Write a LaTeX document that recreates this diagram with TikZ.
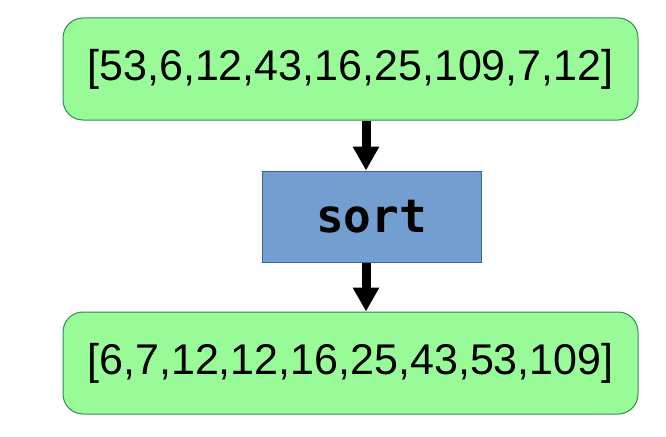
\documentclass[tikz,border=0pt]{standalone}
\usepackage{fontspec}
\setmainfont{Liberation Sans}
\newfontfamily\codefont{DejaVu Sans Mono}
\usetikzlibrary{arrows.meta,positioning}
\definecolor{listgreen}{HTML}{98FB98}
\definecolor{listedge}{HTML}{2E8B57}
\definecolor{sortblue}{HTML}{729FCF}
\definecolor{sortedge}{HTML}{3465A4}
\begin{document}
\begin{tikzpicture}
     [
     x=1pt, y=-1pt,
     listbox/.style={rectangle, rounded corners=20pt, draw=listedge, fill=listgreen, line width=1pt, minimum width=575pt, minimum height=102pt, font=\fontsize{43}{48}\selectfont},
     sortbox/.style={rectangle, draw=sortedge, fill=sortblue, line width=1pt, minimum width=219pt, minimum height=91pt, font=\codefont\bfseries\fontsize{46}{52}\selectfont},
     flow/.style={line width=9pt, -{Triangle[width=25pt,length=24pt]}},
     ]
 \useasboundingbox (0,0) rectangle (666,436);
 \node at (350.5,69) [listbox] (inlist) {[53,6,12,43,16,25,109,7,12]};
 \node at (371.5,216.5) [sortbox] (sorter) {sort};
 \node at (350.5,363) [listbox] (outlist) {[6,7,12,12,16,25,43,53,109]};
 \draw[flow] ([xshift=-5.5pt]sorter.north |- inlist.south) -- ([xshift=-5.5pt]sorter.north);
 \draw[flow] ([xshift=-5.5pt]sorter.south) -- ([xshift=-5.5pt]sorter.south |- outlist.north);
 \end{tikzpicture}
\end{document}
